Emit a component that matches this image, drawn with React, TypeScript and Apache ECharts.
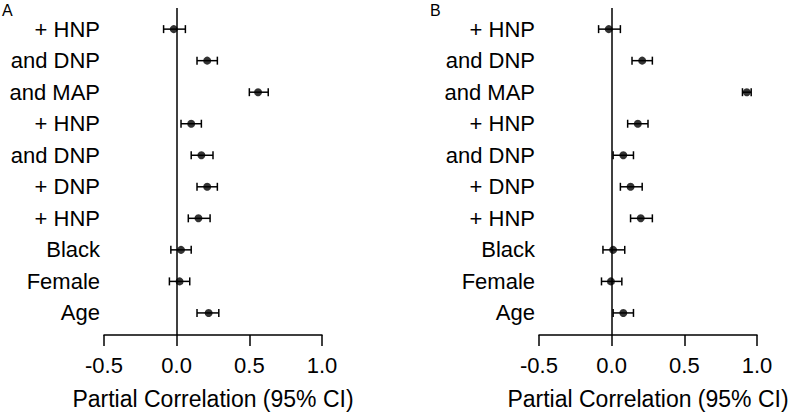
import React, { useEffect, useRef } from "react";
import * as echarts from "echarts";

const rowLabels = ["+ HNP", "and DNP", "and MAP", "+ HNP", "and DNP", "+ DNP", "+ HNP", "Black", "Female", "Age"];
const xTicks = [-0.5, 0, 0.5, 1.0];

// Panel A: estimate, lower CI, upper CI (top row first)
const estA = [-0.02, 0.21, 0.56, 0.1, 0.17, 0.21, 0.15, 0.03, 0.02, 0.22];
const loA = [-0.09, 0.14, 0.5, 0.03, 0.1, 0.14, 0.08, -0.04, -0.05, 0.14];
const hiA = [0.06, 0.28, 0.63, 0.17, 0.25, 0.28, 0.23, 0.1, 0.09, 0.29];

// Panel B
const estB = [-0.02, 0.21, 0.93, 0.18, 0.08, 0.13, 0.2, 0.01, -0.005, 0.08];
const loB = [-0.09, 0.14, 0.9, 0.11, 0.01, 0.06, 0.13, -0.06, -0.07, 0.01];
const hiB = [0.06, 0.28, 0.96, 0.25, 0.15, 0.21, 0.28, 0.09, 0.07, 0.15];

const FONT = "'Liberation Sans', Arial, sans-serif";
const N = rowLabels.length;
const rowPos = (i: number) => N - i;

function makeAxes(gridIndex: number) {
  const xAxis = {
    type: "value",
    gridIndex,
    min: xTicks[0],
    max: xTicks[xTicks.length - 1],
    interval: 0.5,
    axisLine: { show: true, onZero: false, lineStyle: { color: "#000", width: 1.5 } },
    axisTick: { show: true, length: 11, lineStyle: { color: "#000", width: 1.5 } },
    axisLabel: {
      color: "#000",
      fontSize: 22,
      fontFamily: FONT,
      margin: 19,
      formatter: (v: number) => v.toFixed(1),
    },
    splitLine: { show: false },
    name: "Partial Correlation (95% CI)",
    nameLocation: "middle",
    nameGap: 52,
    nameTextStyle: { color: "#000", fontSize: 23, fontFamily: FONT },
  };
  const yAxis = {
    type: "value",
    gridIndex,
    min: 0.3,
    max: 10.67,
    axisLine: { show: false },
    axisTick: { show: false },
    splitLine: { show: false },
    axisLabel: {
      color: "#000",
      fontSize: 22,
      fontFamily: FONT,
      margin: 4,
      customValues: rowLabels.map((_, i) => rowPos(i)),
      formatter: (v: number) => rowLabels[N - Math.round(v)] ?? "",
    },
  };
  return { xAxis, yAxis };
}

function makeSeries(idx: number, est: number[], lo: number[], hi: number[]) {
  return [
    {
      type: "custom",
      xAxisIndex: idx,
      yAxisIndex: idx,
      data: lo.map((l, i) => [l, hi[i], rowPos(i)]),
      encode: { x: [0, 1], y: 2 },
      renderItem: (params: any, api: any) => {
        const a = api.coord([api.value(0), api.value(2)]);
        const b = api.coord([api.value(1), api.value(2)]);
        const h = 4;
        const style = { stroke: "#000", lineWidth: 1.5 };
        return {
          type: "group",
          children: [
            { type: "line", shape: { x1: a[0], y1: a[1], x2: b[0], y2: b[1] }, style },
            { type: "line", shape: { x1: a[0], y1: a[1] - h, x2: a[0], y2: a[1] + h }, style },
            { type: "line", shape: { x1: b[0], y1: b[1] - h, x2: b[0], y2: b[1] + h }, style },
          ],
        };
      },
      silent: true,
      z: 3,
    },
    {
      type: "scatter",
      xAxisIndex: idx,
      yAxisIndex: idx,
      data: est.map((v, i) => [v, rowPos(i)]),
      symbol: "circle",
      symbolSize: 8,
      itemStyle: { color: "#000" },
      silent: true,
      z: 4,
      markLine: {
        silent: true,
        symbol: ["none", "none"],
        label: { show: false },
        lineStyle: { color: "#000", width: 1.5, type: "solid" },
        data: [{ xAxis: 0 }],
      },
    },
  ];
}

export default function App() {
  const ref = useRef<HTMLDivElement>(null);
  useEffect(() => {
    if (!ref.current) return;
    const chart = echarts.init(ref.current, undefined, { renderer: "svg" });
    const a = makeAxes(0);
    const b = makeAxes(1);
    chart.setOption({
      animation: false,
      backgroundColor: "#fff",
      grid: [
        { left: 104, right: 478, top: 8, bottom: 80 },
        { left: 539, right: 43, top: 8, bottom: 80 },
      ],
      xAxis: [a.xAxis, b.xAxis],
      yAxis: [a.yAxis, b.yAxis],
      graphic: [
        { type: "text", left: 2, top: 2, style: { text: "A", fontSize: 16, fontFamily: FONT, fill: "#000" } },
        { type: "text", left: 430, top: 2, style: { text: "B", fontSize: 16, fontFamily: FONT, fill: "#000" } },
      ],
      series: [...makeSeries(0, estA, loA, hiA), ...makeSeries(1, estB, loB, hiB)],
    });
    return () => chart.dispose();
  }, []);
  return (
    <div
      ref={ref}
      style={{ position: "fixed", left: 0, top: 0, width: 800, height: 415, background: "#fff" }}
    />
  );
}
